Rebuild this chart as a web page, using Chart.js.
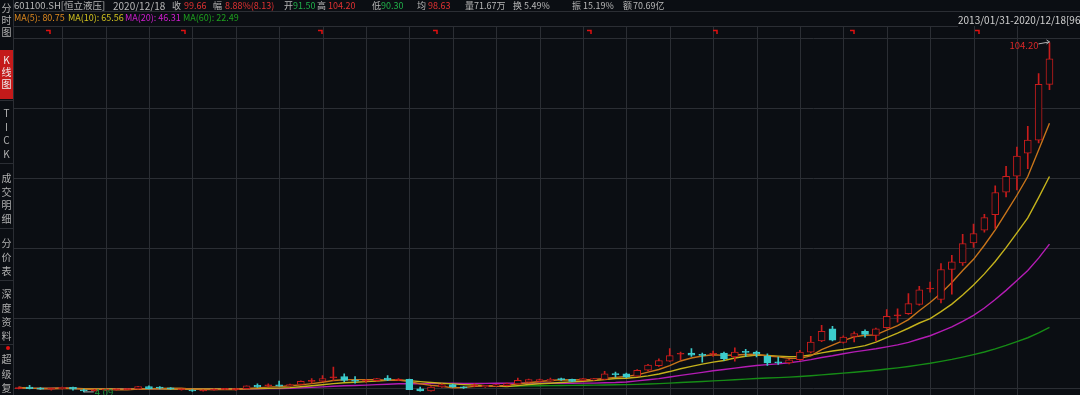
<!DOCTYPE html>
<html>
<head>
<meta charset="utf-8">
<script src="https://cdn.jsdelivr.net/npm/chart.js@4.4.1/dist/chart.umd.min.js"></script>
<style>
  html, body { margin: 0; padding: 0; background: #0b0e13; }
  #wrap { position: relative; width: 1080px; height: 395px; overflow: hidden;
    font-family: "Noto Sans CJK SC", "Noto Sans", sans-serif; font-size: 9px; color: #b8b8b8; }
  #chart { position: absolute; left: 0; top: 0; }
  .t { position: absolute; white-space: nowrap; line-height: 11px; }
  .r { color: #e03232; }
  .g { color: #20b04a; }
  .side { position: absolute; left: 0; width: 13px; text-align: center; line-height: 12px; color: #b0b0b0; font-size: 10px; }
  .hl { position: absolute; height: 1px; background: #2b2e34; }
</style>
</head>
<body>
<div id="wrap">
  <canvas id="chart" width="1080" height="395"></canvas>

  <!-- header row 1 -->
  <div class="t" style="left:14px;top:0px;font-size:9.5px">601100.SH[恒立液压]</div>
  <div class="t" style="left:113px;top:0px;font-size:10px">2020/12/18</div>
  <div class="t" style="left:172px;top:0px">收</div><div class="t r" style="left:184px;top:0px">99.66</div>
  <div class="t" style="left:213px;top:0px">幅</div><div class="t r" style="left:225px;top:0px">8.88%(8.13)</div>
  <div class="t" style="left:284px;top:0px">开</div><div class="t g" style="left:293px;top:0px">91.50</div>
  <div class="t" style="left:317px;top:0px">高</div><div class="t r" style="left:328px;top:0px">104.20</div>
  <div class="t" style="left:372px;top:0px">低</div><div class="t g" style="left:381px;top:0px">90.30</div>
  <div class="t" style="left:417px;top:0px">均</div><div class="t r" style="left:428px;top:0px">98.63</div>
  <div class="t" style="left:465px;top:0px">量</div><div class="t" style="left:474px;top:0px">71.67万</div>
  <div class="t" style="left:513px;top:0px">换</div><div class="t" style="left:524px;top:0px">5.49%</div>
  <div class="t" style="left:572px;top:0px">振</div><div class="t" style="left:583px;top:0px">15.19%</div>
  <div class="t" style="left:623px;top:0px">额</div><div class="t" style="left:633px;top:0px">70.69亿</div>

  <!-- header row 2: MA values -->
  <div class="t" style="left:14px;top:12px;color:#e08a1e">MA(5): 80.75</div>
  <div class="t" style="left:68px;top:12px;color:#d2c21e">MA(10): 65.56</div>
  <div class="t" style="left:125px;top:12px;color:#d21ed2">MA(20): 46.31</div>
  <div class="t" style="left:183px;top:12px;color:#1ea01e">MA(60): 22.49</div>
  <div class="t" style="left:958px;top:14px;color:#d0d0d0;font-size:10px">2013/01/31-2020/12/18[96]</div>

  <div class="hl" style="left:13px;top:11px;width:1067px"></div>
  <div class="hl" style="left:13px;top:26px;width:945px"></div>

  <!-- left tabs -->
  <div style="position:absolute;left:13px;top:0;width:1px;height:395px;background:#2b2e34"></div>
  <div style="position:absolute;left:0;top:50px;width:13px;height:49px;background:#c41a1a"></div>
  <div class="side" style="top:2px">分<br>时<br>图</div>
  <div class="side" style="top:54px;color:#f0f0f0">K<br>线<br>图</div>
  <div class="side" style="top:106px;line-height:13.5px">T<br>I<br>C<br>K</div>
  <div class="side" style="top:171px;line-height:13.5px">成<br>交<br>明<br>细</div>
  <div class="side" style="top:236px;line-height:14px">分<br>价<br>表</div>
  <div class="side" style="top:287px;line-height:14px">深<br>度<br>资<br>料</div>
  <div class="side" style="top:352px;line-height:14.5px">超<br>级<br>复</div>
  <div style="position:absolute;left:6px;top:346px;width:4px;height:4px;border-radius:2px;background:#e01010"></div>
  <div class="hl" style="left:0;top:100px;width:13px"></div>
  <div class="hl" style="left:0;top:163px;width:13px"></div>
  <div class="hl" style="left:0;top:228px;width:13px"></div>
  <div class="hl" style="left:0;top:280px;width:13px"></div>
  <div class="hl" style="left:0;top:344px;width:13px"></div>
</div>

<script>
// monthly K line, 601100.SH, forward adjusted
const months = [
  "2013/01", "2013/02", "2013/03", "2013/04", "2013/05", "2013/06", "2013/07", "2013/08", "2013/09", "2013/10", "2013/11", "2013/12",
  "2014/01", "2014/02", "2014/03", "2014/04", "2014/05", "2014/06", "2014/07", "2014/08", "2014/09", "2014/10", "2014/11", "2014/12",
  "2015/01", "2015/02", "2015/03", "2015/04", "2015/05", "2015/06", "2015/07", "2015/08", "2015/09", "2015/10", "2015/11", "2015/12",
  "2016/01", "2016/02", "2016/03", "2016/04", "2016/05", "2016/06", "2016/07", "2016/08", "2016/09", "2016/10", "2016/11", "2016/12",
  "2017/01", "2017/02", "2017/03", "2017/04", "2017/05", "2017/06", "2017/07", "2017/08", "2017/09", "2017/10", "2017/11", "2017/12",
  "2018/01", "2018/02", "2018/03", "2018/04", "2018/05", "2018/06", "2018/07", "2018/08", "2018/09", "2018/10", "2018/11", "2018/12",
  "2019/01", "2019/02", "2019/03", "2019/04", "2019/05", "2019/06", "2019/07", "2019/08", "2019/09", "2019/10", "2019/11", "2019/12",
  "2020/01", "2020/02", "2020/03", "2020/04", "2020/05", "2020/06", "2020/07", "2020/08", "2020/09", "2020/10", "2020/11", "2020/12",
];

const opens = [
  5.05, 5.45, 5.2, 4.9, 5.0, 5.4, 4.5, 4.4, 4.6, 4.7, 4.75, 4.95,
  5.6, 5.2, 5.15, 4.7, 4.6, 4.35, 4.6, 4.8, 4.75, 5.0, 5.95, 5.85,
  6.15, 5.8, 6.2, 7.1, 7.2, 8.1, 8.5, 7.4, 7.2, 7.3, 8.05, 7.45,
  7.7, 5.0, 4.35, 5.5, 6.2, 5.5, 5.85, 5.5, 5.75, 5.9, 6.4, 6.9,
  7.1, 7.2, 7.75, 7.7, 7.4, 7.5, 7.7, 9.15, 9.3, 8.6, 10.3, 11.6,
  12.9, 14.9, 15.2, 14.7, 14.9, 15.2, 14.1, 15.6, 15.5, 14.4, 12.6, 12.4,
  13.3, 15.5, 18.7, 22.2, 18.3, 20.0, 21.5, 20.3, 22.5, 25.9, 26.5, 29.2,
  33.6, 30.6, 39.2, 41.1, 46.8, 50.5, 54.9, 61.4, 66.0, 72.6, 76.3, 92.3,
];
const highs = [
  5.5, 5.95, 5.3, 5.2, 5.5, 5.5, 4.9, 4.8, 5.0, 5.0, 5.0, 5.7,
  5.8, 5.6, 5.3, 5.0, 4.75, 4.7, 5.0, 5.1, 5.1, 5.8, 6.4, 6.4,
  7.2, 6.3, 7.3, 7.9, 8.8, 11.2, 9.3, 8.5, 7.6, 8.0, 8.8, 7.9,
  7.8, 5.5, 5.6, 6.4, 6.3, 5.6, 6.4, 6.0, 6.25, 6.6, 8.05, 7.8,
  7.8, 8.05, 8.05, 7.8, 8.0, 8.0, 10.0, 9.8, 9.5, 10.5, 12.0, 13.6,
  16.5, 15.5, 16.5, 15.2, 15.8, 15.5, 16.7, 16.3, 15.8, 15.0, 14.1, 13.4,
  16.0, 20.0, 23.2, 22.9, 20.2, 21.3, 21.9, 22.4, 27.7, 27.9, 32.3, 34.4,
  35.6, 40.9, 43.3, 49.3, 52.2, 55.0, 63.2, 68.8, 74.3, 80.3, 95.4, 104.2,
];
const lows = [
  4.95, 4.95, 4.8, 4.6, 4.9, 4.6, 4.09, 4.3, 4.5, 4.6, 4.7, 4.9,
  4.95, 4.95, 4.8, 4.6, 4.2, 4.3, 4.55, 4.7, 4.6, 4.95, 5.4, 5.6,
  5.7, 5.7, 6.1, 6.6, 7.0, 7.4, 7.0, 6.6, 6.8, 7.2, 7.3, 7.3,
  4.7, 4.3, 4.3, 5.4, 5.4, 5.1, 5.5, 5.4, 5.6, 5.8, 6.3, 6.8,
  7.0, 7.1, 7.4, 7.0, 7.3, 7.4, 7.6, 8.3, 8.2, 8.5, 10.1, 11.4,
  12.8, 13.3, 14.3, 12.6, 14.3, 13.1, 12.9, 14.3, 14.1, 11.7, 12.0, 12.1,
  13.1, 15.3, 18.5, 18.7, 18.1, 18.4, 19.8, 18.7, 22.3, 24.1, 26.3, 29.0,
  32.7, 29.6, 32.1, 40.4, 45.5, 49.9, 51.0, 60.0, 62.0, 68.1, 75.5, 90.8,
];
const closes = [
  5.35, 5.0, 4.9, 5.05, 5.4, 4.9, 4.4, 4.6, 4.7, 4.8, 4.95, 5.6,
  5.05, 5.15, 4.95, 4.9, 4.35, 4.6, 4.9, 5.0, 5.0, 5.8, 5.5, 5.95,
  5.75, 6.2, 7.1, 7.25, 7.9, 8.3, 7.4, 7.2, 7.3, 7.9, 7.45, 7.7,
  4.75, 4.35, 5.5, 6.2, 5.5, 5.25, 5.95, 5.95, 6.2, 6.5, 7.4, 7.6,
  7.6, 7.7, 7.6, 7.1, 7.9, 7.9, 9.3, 9.05, 8.3, 10.3, 11.8, 13.1,
  14.5, 15.1, 14.6, 14.55, 15.05, 13.6, 15.5, 15.45, 14.9, 12.4, 12.45, 13.3,
  15.5, 18.4, 21.5, 18.9, 19.8, 20.8, 20.6, 22.2, 25.8, 26.1, 29.4, 33.4,
  33.9, 39.2, 41.4, 46.6, 49.5, 54.1, 61.3, 65.9, 71.7, 76.3, 92.3, 99.66,
];

const maPeriods = [5, 10, 20, 60];
const maFirstMonth = [0, 0, 0, 44]; // MA60 only shows once 60 months of history exist
const maColors = ["#c8741a", "#c4b21c", "#b41cb4", "#168c16"];

// price levels of the horizontal grid, month positions of the red notice flags
const gridPrices = [105.6, 85.5, 65.4, 45.3, 25.2, 5.1];
const noticeMonths = [2.88, 15.33, 27.92, 38.53, 52.72, 64.33, 76.98, 88.53];

const upColor = "#c81c1c";
const downColor = "#3ccccc";
const bgColor = "#0b0e13";
const gridColor = "#2b2e34";

function movingAverage(period, first) {
  const out = [];
  for (let i = 0; i < closes.length; i++) {
    if (i < first) {
      out.push(null);
      continue;
    }
    const from = Math.max(0, i - period + 1);
    let sum = 0;
    for (let j = from; j <= i; j++) sum += closes[j];
    out.push(sum / (i - from + 1));
  }
  return out;
}

function candleColor(i) {
  return closes[i] >= opens[i] ? upColor : downColor;
}

const bgPlugin = {
  id: "bg",
  beforeDraw(chart) {
    const ctx = chart.ctx;
    ctx.save();
    ctx.fillStyle = bgColor;
    ctx.fillRect(0, 0, chart.width, chart.height);
    ctx.restore();
  },
  beforeDatasetsDraw(chart) {
    const ctx = chart.ctx;
    const x = chart.scales.x;
    const y = chart.scales.y;
    ctx.save();
    ctx.strokeStyle = gridColor;
    ctx.lineWidth = 1;
    ctx.beginPath();
    gridPrices.forEach((p) => {
      const py = Math.round(y.getPixelForValue(p)) + 0.5;
      ctx.moveTo(14, py);
      ctx.lineTo(1080, py);
    });
    for (let i = 4; i < months.length; i += 4) {
      const px = Math.round(x.getPixelForValue(i)) + 0.5;
      ctx.moveTo(px, 26);
      ctx.lineTo(px, 395);
    }
    ctx.stroke();
    ctx.restore();
  },
  afterDatasetsDraw(chart) {
    const ctx = chart.ctx;
    const x = chart.scales.x;
    const y = chart.scales.y;
    ctx.save();

    // notice flags
    ctx.strokeStyle = "#e01010";
    ctx.lineWidth = 1.5;
    noticeMonths.forEach((m) => {
      const px = Math.round(x.getPixelForValue(m));
      ctx.beginPath();
      ctx.moveTo(px - 4, 30.5);
      ctx.lineTo(px, 30.5);
      ctx.lineTo(px, 34);
      ctx.stroke();
    });

    // highest point
    const hi = highs.indexOf(Math.max(...highs));
    const hx = x.getPixelForValue(hi);
    const hy = y.getPixelForValue(highs[hi]);
    ctx.font = '9.5px "Noto Sans CJK SC", sans-serif';
    ctx.fillStyle = "#d82828";
    ctx.textAlign = "right";
    ctx.textBaseline = "middle";
    ctx.fillText(highs[hi].toFixed(2), hx - 11, hy + 2.5);
    ctx.strokeStyle = "#b0b0b0";
    ctx.lineWidth = 1;
    ctx.beginPath();
    ctx.moveTo(hx - 11, hy + 1);
    ctx.lineTo(hx, hy - 1);
    ctx.moveTo(hx - 3, hy - 3);
    ctx.lineTo(hx, hy - 1);
    ctx.lineTo(hx - 3, hy + 1);
    ctx.stroke();

    // lowest point
    const lo = lows.indexOf(Math.min(...lows));
    const lx = x.getPixelForValue(lo);
    const ly = y.getPixelForValue(lows[lo]);
    ctx.beginPath();
    ctx.moveTo(lx, ly);
    ctx.lineTo(lx + 10, ly);
    ctx.stroke();
    ctx.fillStyle = "#1e9a3c";
    ctx.textAlign = "left";
    ctx.fillText(lows[lo].toFixed(2), lx + 11, ly);
    ctx.restore();
  },
};

const maDatasets = maPeriods.map((p, k) => ({
  type: "line",
  label: "MA" + p,
  data: movingAverage(p, maFirstMonth[k]),
  borderColor: maColors[k],
  borderWidth: 1.4,
  pointRadius: 0,
  tension: 0,
  order: 3,
}));

new Chart(document.getElementById("chart"), {
  data: {
    labels: months,
    datasets: [
      {
        type: "bar",
        label: "body",
        data: months.map((m, i) => [opens[i], closes[i]]),
        backgroundColor: (c) => {
          const i = c.dataIndex;
          if (closes[i] < opens[i]) return downColor;
          return Math.abs(closes[i] - opens[i]) < 0.4 ? upColor : bgColor;
        },
        borderColor: (c) => candleColor(c.dataIndex),
        borderWidth: 1,
        borderSkipped: false,
        barThickness: 7,
        minBarLength: 1,
        order: 1,
      },
      {
        type: "bar",
        label: "wick",
        data: months.map((m, i) => [lows[i], highs[i]]),
        backgroundColor: (c) => candleColor(c.dataIndex),
        borderWidth: 0,
        barThickness: 1,
        order: 2,
      },
      ...maDatasets,
    ],
  },
  options: {
    responsive: false,
    animation: false,
    layout: { padding: { left: 13.3, right: 25.1, top: 26, bottom: 0 } },
    datasets: { bar: { grouped: false } },
    plugins: { legend: { display: false }, tooltip: { enabled: false } },
    scales: {
      x: { type: "category", display: false, offset: true },
      y: { type: "linear", display: false, min: 3.2, max: 109.05 },
    },
  },
  plugins: [bgPlugin],
});
</script>
</body>
</html>
